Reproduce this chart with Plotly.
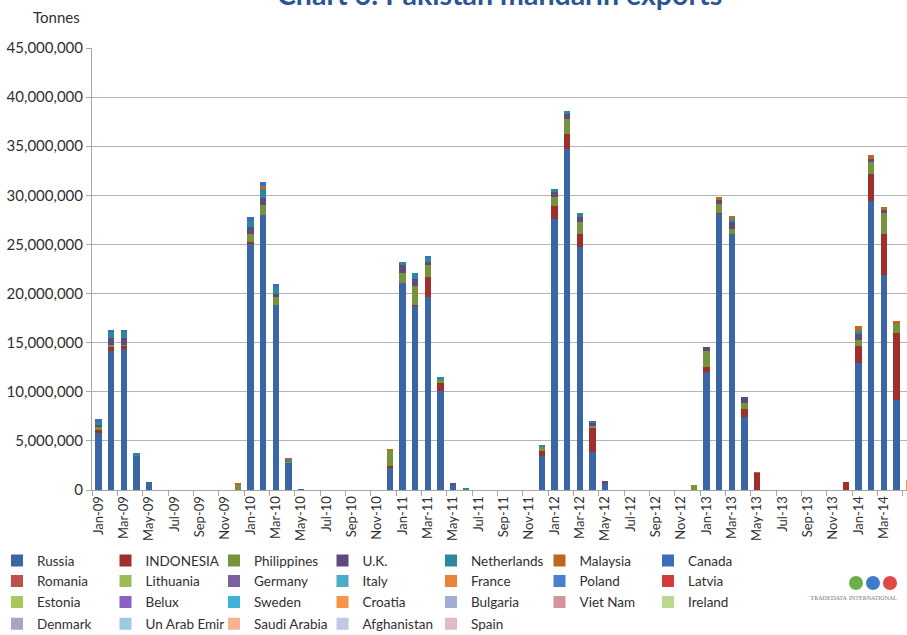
import plotly.graph_objects as go

# ---------------- data ----------------
YEARS = ["09", "10", "11", "12", "13", "14"]
MONTH_NAMES = ["Jan", "Feb", "Mar", "Apr", "May", "Jun", "Jul", "Aug", "Sep", "Oct", "Nov", "Dec"]
months = [f"{m}-{y}" for y in YEARS for m in MONTH_NAMES][:66]   # Jan-09 .. Jun-14
N = len(months)

UNIT = 1_000_000  # values below are in million tonnes

russia = ([5.9, 14.2, 14.4, 3.5, 0.8, 0, 0, 0, 0, 0, 0, 0] +
          [25.1, 28.0, 18.8, 2.8, 0.05, 0, 0, 0, 0, 0, 0, 2.3] +
          [21.1, 18.8, 19.6, 10.1, 0.6, 0.1, 0, 0, 0, 0, 0, 3.5] +
          [27.6, 34.7, 24.7, 3.9, 0.6, 0, 0, 0, 0, 0, 0, 0] +
          [12.0, 28.1, 26.1, 7.45, 0, 0, 0, 0, 0, 0, 0, 0] +
          [12.9, 29.4, 21.9, 9.2, 0, 0])
indonesia = ([0.2, 0.4, 0.3, 0, 0, 0, 0, 0, 0, 0, 0, 0] +
             [0.1, 0, 0, 0, 0, 0, 0, 0, 0, 0, 0, 0.1] +
             [0, 0.05, 2.1, 0.8, 0, 0, 0, 0, 0, 0, 0, 0.45] +
             [1.3, 1.55, 1.35, 2.5, 0, 0, 0, 0, 0, 0, 0, 0] +
             [0.5, 0.15, 0, 0.75, 1.75, 0, 0, 0, 0, 0, 0, 0.85] +
             [1.8, 2.75, 4.15, 6.8, 0, 0])
philippines = ([0.4, 0.2, 0.1, 0, 0, 0, 0, 0, 0, 0, 0, 0.6] +
               [0.9, 1.0, 0.85, 0.1, 0, 0, 0, 0, 0, 0, 0, 1.7] +
               [1.0, 1.9, 1.25, 0.25, 0, 0, 0, 0, 0, 0, 0, 0.5] +
               [0.95, 1.5, 1.25, 0.15, 0, 0, 0, 0, 0, 0, 0, 0.5] +
               [1.7, 0.85, 0.5, 0.7, 0, 0, 0, 0, 0, 0, 0, 0] +
               [0.6, 1.25, 2.2, 0.95, 0, 0])
uk = ([0.1, 0.7, 0.7, 0, 0, 0, 0, 0, 0, 0, 0, 0] +
      [0.7, 0.7, 0.35, 0, 0, 0, 0, 0, 0, 0, 0, 0] +
      [0.8, 0.7, 0.3, 0, 0.1, 0, 0, 0, 0, 0, 0, 0] +
      [0.5, 0.55, 0.5, 0.3, 0.3, 0, 0, 0, 0, 0, 0, 0] +
      [0.35, 0.45, 0.7, 0.6, 0, 0, 0, 0, 0, 0, 0, 0] +
      [0.6, 0.35, 0.25, 0, 0, 0])
netherlands = ([0.3, 0.6, 0.6, 0.3, 0, 0, 0, 0, 0, 0, 0, 0] +
               [0.6, 1.0, 0.7, 0.2, 0, 0, 0, 0, 0, 0, 0, 0] +
               [0.3, 0.65, 0.45, 0.35, 0, 0.05, 0, 0, 0, 0, 0, 0.05] +
               [0.3, 0.3, 0.45, 0, 0, 0, 0, 0, 0, 0, 0, 0] +
               [0, 0, 0.3, 0, 0, 0, 0, 0, 0, 0, 0, 0] +
               [0.3, 0, 0, 0, 0, 0])
malaysia = ([0, 0, 0, 0, 0, 0, 0, 0, 0, 0, 0, 0.1] +
            [0, 0.2, 0, 0.1, 0, 0, 0, 0, 0, 0, 0, 0.05] +
            [0, 0, 0, 0, 0, 0, 0, 0, 0, 0, 0, 0] +
            [0, 0, 0, 0, 0, 0, 0, 0, 0, 0, 0, 0] +
            [0, 0.25, 0.25, 0, 0.05, 0, 0, 0, 0, 0, 0, 0] +
            [0.5, 0.4, 0.3, 0.25, 0, 0])
canada = ([0.3, 0.1, 0.1, 0, 0, 0, 0, 0, 0, 0, 0, 0] +
          [0.4, 0.5, 0.3, 0, 0, 0, 0, 0, 0, 0, 0, 0] +
          [0, 0, 0.1, 0, 0, 0, 0, 0, 0, 0, 0, 0] +
          [0, 0, 0, 0.15, 0, 0, 0, 0, 0, 0, 0, 0] +
          [0, 0, 0, 0, 0, 0, 0, 0, 0, 0, 0, 0] +
          [0, 0, 0, 0, 0, 0])
croatia = ([0] * 60 + [0, 0, 0, 0, 1.0, 0])
none = [0] * N  # countries with no visible volume in the displayed window

countries = ["Russia", "INDONESIA", "Philippines", "U.K.", "Netherlands", "Malaysia", "Canada",
             "Romania", "Lithuania", "Germany", "Italy", "France", "Poland", "Latvia",
             "Estonia", "Belux", "Sweden", "Croatia", "Bulgaria", "Viet Nam", "Ireland",
             "Denmark", "Un Arab Emir", "Saudi Arabia", "Afghanistan", "Spain"]
series = {"Russia": russia, "INDONESIA": indonesia, "Philippines": philippines, "U.K.": uk,
          "Netherlands": netherlands, "Malaysia": malaysia, "Canada": canada, "Croatia": croatia}
colors = ["#3B66A5", "#9E2F2D", "#76933C", "#5F4A7E", "#2E889C", "#C0661F", "#3B6DBA",
          "#C0504D", "#9BBB59", "#7D60A0", "#4BACC6", "#E8843A", "#4A7FCC", "#D23B3B",
          "#A8C85E", "#8B62C4", "#3DB3D6", "#F7944A", "#A3ABD9", "#D4929A", "#BCD890",
          "#A9A5C8", "#9CCAE0", "#F8B28E", "#C0C9E4", "#E2BAC2"]

tick_idx = list(range(0, N, 2))
tick_text = [months[i] for i in tick_idx]

# ---------------- figure ----------------
FONT = "Lato, 'Liberation Sans', sans-serif"
fig = go.Figure()
legend_ids = ["legend", "legend2", "legend3", "legend4"]
for k, (name, col) in enumerate(zip(countries, colors)):
    vals = series.get(name, none)
    fig.add_trace(go.Bar(
        x=list(range(N)), y=[v * UNIT for v in vals], name=name,
        marker=dict(color=col, line=dict(width=0)),
        legend=legend_ids[k // 7],
        hovertemplate=name + "<br>%{text}: %{y:,.0f}<extra></extra>", text=months,
        textposition="none",
    ))

W, H = 907, 635
ML, MT, MB = 92, 48, 145
PW, PH = W - ML, H - MT - MB


def px_x(px):
    return (px - ML) / PW


def px_y(py):
    return (H - MB - py) / PH


row_y = [560.7, 581.3, 602.3, 624.0]
legend_common = dict(orientation="h", entrywidth=63.5, entrywidthmode="pixels",
                     font=dict(family=FONT, size=13.5, color="#303030"),
                     bgcolor="rgba(0,0,0,0)", xanchor="left", yanchor="middle",
                     traceorder="normal", x=px_x(-3))
layout_legends = {lid: dict(legend_common, y=px_y(ry)) for lid, ry in zip(legend_ids, row_y)}

fig.update_layout(
    width=W, height=H,
    margin=dict(l=ML, r=0, t=MT, b=MB, autoexpand=False),
    paper_bgcolor="white", plot_bgcolor="white",
    barmode="stack", bargap=0.5,
    font=dict(family=FONT, size=13, color="#303030"),
    showlegend=True,
    **layout_legends,
    xaxis=dict(
        range=[-0.5, 63.83], tickmode="array", tickvals=tick_idx, ticktext=tick_text,
        tickangle=-90, ticks="", showgrid=False, zeroline=False,
        showline=True, linecolor="#A6A6A6", linewidth=1,
        tickfont=dict(family=FONT, size=13, color="#303030"),
        minor=dict(tick0=-0.5, dtick=2, ticks="outside", ticklen=5, tickcolor="#A6A6A6", showgrid=False),
    ),
    yaxis=dict(
        range=[0, 45 * UNIT], dtick=5 * UNIT, tickformat=",", ticks="outside", ticklen=5,
        tickcolor="#A6A6A6", showgrid=True, gridcolor="#B4B4B4", gridwidth=1,
        showline=True, linecolor="#A6A6A6", linewidth=1, zeroline=False,
        tickfont=dict(family=FONT, size=15, color="#303030"),
    ),
    annotations=[
        dict(text="<b>Chart 6: Pakistan mandarin exports</b>", xref="paper", yref="paper",
             x=px_x(499), y=px_y(-6), xanchor="center", yanchor="middle", showarrow=False,
             font=dict(family=FONT, size=28.5, color="#2A5597")),
        dict(text="Tonnes", xref="paper", yref="paper", x=px_x(56), y=px_y(17),
             xanchor="center", yanchor="middle", showarrow=False,
             font=dict(family=FONT, size=15, color="#303030")),
        dict(text="T<span style='font-size:6px'>RADE</span>D<span style='font-size:6px'>ATA</span> "
                  "I<span style='font-size:6px'>NTERNATIONAL</span>",
             xref="paper", yref="paper", x=px_x(853), y=px_y(598),
             xanchor="center", yanchor="middle", showarrow=False,
             font=dict(family="Liberation Serif, serif", size=7, color="#7A7A7A")),
    ],
    shapes=[
        dict(type="circle", xref="paper", yref="paper", x0=px_x(849), x1=px_x(863),
             y0=px_y(576), y1=px_y(590), fillcolor="#6BB04A", line=dict(width=0)),
        dict(type="circle", xref="paper", yref="paper", x0=px_x(866), x1=px_x(880),
             y0=px_y(576), y1=px_y(590), fillcolor="#3E7CC6", line=dict(width=0)),
        dict(type="circle", xref="paper", yref="paper", x0=px_x(883), x1=px_x(897),
             y0=px_y(576), y1=px_y(590), fillcolor="#E04848", line=dict(width=0)),
    ],
)

fig.write_html("out.html")
